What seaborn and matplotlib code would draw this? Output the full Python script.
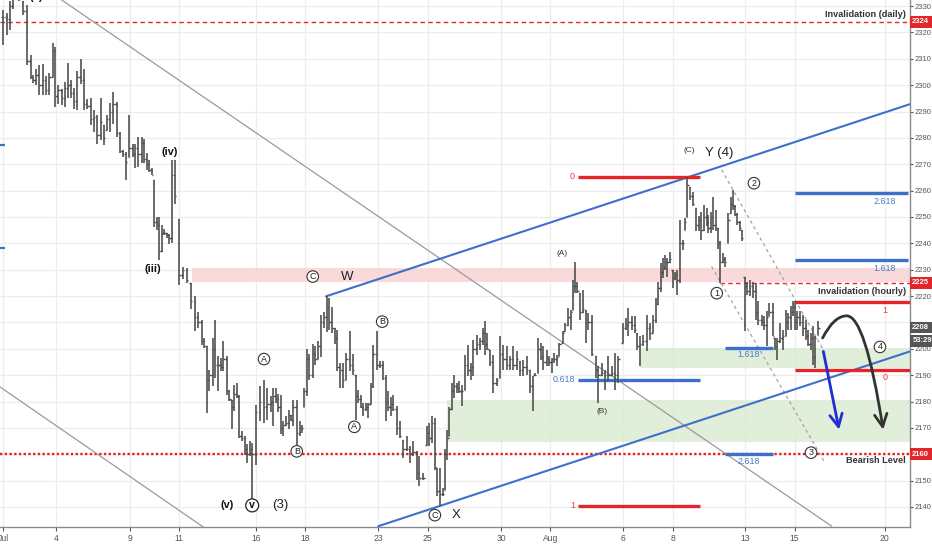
import numpy as np
import pandas as pd
import matplotlib
matplotlib.use("Agg")
import matplotlib.pyplot as plt
import matplotlib.transforms as mtransforms
from matplotlib.path import Path
from matplotlib.patches import FancyArrowPatch, Rectangle
import seaborn as sns

# ---------------- data ----------------
# bar time in trading days since Jul 2 (hourly bars)
bar_time = [
    -0.17, 0.00, 0.13, 0.24, 0.38, 0.51, 0.67, 0.84, 0.97, 1.08,
    1.20, 1.32, 1.46, 1.59, 1.73, 1.86, 1.97, 2.10, 2.23, 2.37,
    2.50, 2.60, 2.73, 2.87, 3.00, 3.14, 3.27, 3.41, 3.54, 3.68,
    3.81, 3.95, 4.06, 4.19, 4.33, 4.46, 4.60, 4.71, 4.84, 4.98,
    5.11, 5.21, 5.34, 5.48, 5.57, 5.68, 5.79, 5.89, 5.98, 6.09,
    6.18, 6.29, 6.40, 6.50, 6.60, 6.71, 6.83, 7.01, 7.15,
    7.32, 7.47, 7.65, 7.78, 7.92, 8.01, 8.12, 8.23, 8.37, 8.46,
    8.59, 8.69, 8.80, 8.93, 9.04, 9.14, 9.23, 9.34, 9.45, 9.56,
    9.68, 9.77, 9.88, 9.97, 10.11, 10.29, 10.45, 10.58, 10.72, 10.83,
    10.94, 11.03, 11.13, 11.23, 11.34, 11.45, 11.55, 11.64, 11.78, 11.91,
    11.99, 12.07, 12.18, 12.27, 12.43, 12.53, 12.65, 12.76, 12.89, 12.99,
    13.10, 13.23, 13.35, 13.43, 13.54, 13.65, 13.80, 13.94, 14.06, 14.17,
    14.27, 14.37, 14.47, 14.59, 14.69, 14.79, 14.89, 15.05, 15.16, 15.27,
    15.40, 15.50, 15.59, 15.69, 15.84, 15.97, 16.11, 16.25, 16.38, 16.51,
    16.65, 16.76, 16.92, 17.06, 17.16, 17.26, 17.39, 17.49, 17.60, 17.71,
    17.80, 17.89, 17.98, 18.07, 18.17, 18.28, 18.38, 18.48, 18.61, 18.75,
    18.85, 18.95, 19.09, 19.22, 19.33, 19.42, 19.52, 19.63, 19.76, 19.90,
    20.03, 20.17, 20.31, 20.44, 20.57, 20.71, 20.85, 20.98, 21.12, 21.25,
    21.36, 21.46, 21.59, 21.69, 21.79, 21.93, 22.04, 22.13, 22.23, 22.34,
    22.44, 22.58, 22.67, 22.81, 22.91, 23.01, 23.08, 23.17, 23.28, 23.39,
    23.53, 23.62, 23.76, 23.93, 24.03, 24.17, 24.30, 24.43, 24.57, 24.71,
    24.84, 25.02, 25.15, 25.25, 25.38, 25.52, 25.61, 25.72, 25.85, 25.99,
    26.13, 26.24, 26.37, 26.46, 26.56, 26.64, 26.74, 26.83, 26.94, 27.05,
    27.14, 27.24, 27.35, 27.46, 27.55, 27.64, 27.75, 27.86, 28.00, 28.11,
    28.21, 28.32, 28.43, 28.50, 28.59, 28.70, 28.81, 28.89, 28.97, 29.08,
    29.17, 29.31, 29.41, 29.49, 29.58, 29.67, 29.78, 29.87, 29.98, 30.08,
    30.19, 30.32, 30.43, 30.52, 30.66, 30.76, 30.87, 30.97, 31.11, 31.20,
    31.30, 31.41, 31.52, 31.65, 31.74, 31.84, 31.95, 32.02, 32.11, 32.22,
    32.35, 32.46, 32.56, 32.65, 32.74, 32.83, 32.97,
]
bar_high = [
    2328.5, 2327.5, 2332, 2334, 2337, 2336, 2332, 2330.4, 2311.4, 2304,
    2306, 2307.6, 2308.2, 2303.4, 2304.7, 2316, 2314.5, 2300, 2298.7, 2301.3,
    2308.5, 2302, 2299.1, 2305.4, 2310.1, 2306.3, 2294.9, 2295.3, 2290.5, 2288.6,
    2295.3, 2284.8, 2288.6, 2293.3, 2297.5, 2293.7, 2282.3, 2275.3, 2274.7, 2288.6,
    2277.8, 2277.8, 2280.4, 2280.4, 2279.7, 2274.1, 2271.5, 2268.4, 2263.9, 2250,
    2250, 2246.8, 2245.6, 2244, 2243.7, 2271.6, 2271.5, 2249.4, 2231,
    2230.6, 2225, 2220, 2214, 2211.1, 2204.1, 2201, 2192, 2204.1, 2211.1,
    2197.2, 2196.5, 2202.9, 2197.2, 2184.5, 2180.7, 2186.4, 2187, 2182.6, 2168.7,
    2166.8, 2163.7, 2164.9, 2164.3, 2178.8, 2185.8, 2188.3, 2185.1, 2182, 2185.1,
    2185, 2183, 2182.6, 2172.5, 2174.4, 2176.9, 2175, 2180.7, 2180.7, 2172.5,
    2171.2, 2185, 2200, 2198, 2202, 2201, 2203, 2213, 2214, 2219.9,
    2219.2, 2216, 2208, 2207, 2194.6, 2194.6, 2198.4, 2206.6, 2198, 2190,
    2184.5, 2182.6, 2179.4, 2179.4, 2179.4, 2187, 2201.5, 2206.6, 2195.2, 2195.2,
    2190, 2183.8, 2181.9, 2182.6, 2178.2, 2172.5, 2165.5, 2166.8, 2163, 2164.9,
    2161.1, 2159.2, 2152.9, 2170.6, 2171.9, 2174.4, 2173.7, 2154.8, 2154.8, 2147.2,
    2161.8, 2169.3, 2178, 2187, 2190.2, 2187, 2187.6, 2186.4, 2197.7, 2201.5,
    2194.6, 2203.4, 2205.3, 2204.1, 2207.8, 2210.4, 2206, 2199.6, 2197.7, 2188.9,
    2204.7, 2201.5, 2200.9, 2197.1, 2200.9, 2199, 2195.2, 2195.8, 2197.1, 2192,
    2189.5, 2190.8, 2204, 2202.2, 2200.9, 2199.6, 2197.1, 2196.5, 2198.4, 2197.7,
    2202.2, 2206.6, 2209.7, 2215.4, 2214.8, 2226.1, 2233.1, 2225.5, 2221.1, 2222.4,
    2214.8, 2213.5, 2212.9, 2197.1, 2193.3, 2194.6, 2192, 2197.1, 2193.3, 2198.4,
    2197.1, 2209.7, 2211.6, 2215.4, 2212.3, 2212.3, 2206, 2204.7, 2205.3, 2212.9,
    2209.7, 2212.9, 2219.2, 2225.5, 2232.5, 2234.4, 2235.6, 2234.4, 2236.9, 2230,
    2229.3, 2230, 2248.9, 2241.3, 2249.5, 2265.3, 2261.5, 2259.6, 2253.3, 2250.2,
    2252, 2254.6, 2253.3, 2250.8, 2252, 2257.7, 2252.7, 2246, 2240.7, 2236.3,
    2235, 2251.4, 2257.7, 2260.3, 2254.6, 2251.4, 2248.3, 2245.1, 2227.4, 2225.5,
    2226.2, 2225.5, 2224.9, 2218, 2212.9, 2212.3, 2214.2, 2217.3, 2217.3, 2204.1,
    2204.1, 2209.7, 2207.2, 2214.8, 2213.5, 2216.1, 2218, 2218, 2214.2, 2214.2,
    2212.9, 2211, 2207.2, 2206, 2208.5, 2204.7, 2210.4,
]
bar_low = [
    2315.2, 2319, 2321, 2329, 2333, 2332, 2326.6, 2307.6, 2302.5, 2301,
    2300, 2296.2, 2296.2, 2296.2, 2296.2, 2303.2, 2291.8, 2293, 2292.4, 2291.8,
    2295, 2295.3, 2291.1, 2290.5, 2300.6, 2290.5, 2291.1, 2284.8, 2282.3, 2277.8,
    2279.1, 2277.2, 2282.9, 2282.3, 2285.4, 2280.4, 2274.1, 2272.8, 2263.9, 2272.8,
    2272.8, 2268.4, 2269, 2270.3, 2270.3, 2267.7, 2267.1, 2265.8, 2246.2, 2244.9,
    2233.5, 2236.7, 2243, 2242.2, 2239.9, 2240.2, 2255.1, 2224.3, 2226.6,
    2225, 2215, 2206.6, 2208, 2201.6, 2200.3, 2175.7, 2184, 2185.8, 2189,
    2183.9, 2191.5, 2191.5, 2182.6, 2180.1, 2169.4, 2176.3, 2181.4, 2166.2, 2164.9,
    2159.9, 2156.7, 2159.2, 2141, 2156.1, 2172.5, 2171.9, 2173.1, 2176, 2170.6,
    2179.5, 2176, 2167.5, 2166.8, 2170.6, 2169.4, 2172.5, 2170.6, 2163.5, 2167,
    2168.1, 2178, 2182, 2188, 2189, 2194, 2196, 2197, 2208, 2206.5,
    2207.2, 2206, 2202, 2191.5, 2185.1, 2185.1, 2188, 2191.4, 2190, 2173,
    2179.4, 2177.5, 2174.4, 2176.3, 2173.7, 2179, 2185, 2192, 2192.7, 2188.3,
    2172.5, 2176.3, 2174.4, 2176.3, 2167.4, 2166.2, 2158.6, 2161.1, 2156.7, 2159.2,
    2150.4, 2147.9, 2150.4, 2163.6, 2163, 2164.3, 2154.2, 2144.1, 2140.3, 2144.1,
    2146.6, 2158, 2167, 2176.9, 2181.3, 2183.2, 2183.2, 2178.2, 2184.5, 2189.5,
    2188.3, 2189.5, 2197.7, 2199.6, 2201.5, 2197.7, 2199.6, 2193.3, 2183.2, 2185.7,
    2188.9, 2192, 2192, 2192, 2192, 2192, 2189.5, 2189.5, 2190.2, 2183.2,
    2176.3, 2189.5, 2190.8, 2195.8, 2192, 2193.3, 2193.3, 2190.8, 2194.6, 2193.3,
    2197.1, 2202.2, 2206.6, 2208.5, 2207.2, 2214.8, 2221.1, 2221.1, 2211, 2213.5,
    2202.2, 2207.2, 2197.1, 2188.9, 2179.4, 2189.5, 2184.5, 2187.6, 2189.5, 2184.5,
    2187, 2202.2, 2207.2, 2204.7, 2207.2, 2206, 2199.6, 2193.3, 2200.9, 2199,
    2203.4, 2206, 2209.7, 2216.7, 2221.7, 2226.8, 2230, 2227.4, 2232.5, 2223,
    2226.2, 2220.5, 2224.9, 2237.5, 2245.1, 2250, 2256.5, 2254, 2244.5, 2244.5,
    2241.3, 2244.5, 2246.4, 2243.8, 2243.8, 2245.1, 2244.5, 2238, 2224.9, 2232.5,
    2231.2, 2240, 2251.4, 2252.7, 2250.2, 2247, 2244.5, 2240.7, 2206.6, 2220.5,
    2219.9, 2219.2, 2211, 2209.1, 2208.5, 2207.2, 2200.9, 2212.3, 2204.7, 2199.6,
    2195.9, 2202.2, 2199.6, 2204.7, 2207.2, 2207.2, 2212.3, 2207.2, 2207.2, 2208.5,
    2204.7, 2203.4, 2200.9, 2199.6, 2194, 2192.7, 2205.4,
]
bar_close = [
    2326, 2325, 2330, 2333, 2335, 2333, 2328, 2309, 2303, 2302,
    2304, 2300, 2302, 2298, 2303, 2313, 2296, 2298, 2295, 2299,
    2300, 2297, 2294, 2303, 2302, 2293, 2292, 2287, 2288, 2281,
    2286, 2280, 2287, 2290, 2293, 2282, 2275, 2274, 2271, 2276,
    2274, 2276, 2274, 2278, 2272, 2270, 2268, 2266, 2248, 2247,
    2237, 2244, 2244, 2243, 2242, 2266, 2258, 2228, 2230,
    2226, 2218, 2212, 2210, 2203, 2201, 2188, 2190, 2200, 2194,
    2194, 2193, 2196, 2184, 2181, 2178, 2183, 2182, 2167, 2166,
    2162, 2160, 2162, 2160, 2176, 2180, 2178, 2179, 2180, 2182,
    2181, 2178, 2170, 2171, 2172, 2175, 2173, 2178, 2168, 2170,
    2170, 2184, 2196, 2190, 2198, 2196, 2201, 2210, 2212, 2216,
    2210, 2208, 2204, 2193, 2192, 2188, 2196, 2194, 2192, 2182,
    2181, 2178, 2177, 2178, 2179, 2186, 2198, 2194, 2194, 2189,
    2180, 2178, 2179, 2177, 2170, 2167, 2162, 2162, 2160, 2161,
    2153, 2151, 2151, 2168, 2166, 2172, 2155, 2146, 2145, 2145,
    2160, 2166, 2177, 2184, 2186, 2185, 2184, 2184, 2194, 2192,
    2193, 2200, 2202, 2203, 2206, 2202, 2200, 2195, 2187, 2188,
    2198, 2196, 2194, 2196, 2194, 2196, 2192, 2193, 2192, 2186,
    2190, 2190, 2200, 2197, 2195, 2196, 2195, 2196, 2196, 2197,
    2202, 2206, 2209, 2212, 2214, 2224, 2224, 2222, 2214, 2215,
    2210, 2210, 2198, 2192, 2190, 2191, 2190, 2190, 2191, 2190,
    2196, 2208, 2209, 2210, 2209, 2207, 2201, 2202, 2203, 2208,
    2206, 2211, 2217, 2223, 2229, 2231, 2233, 2233, 2234, 2227,
    2228, 2226, 2240, 2240, 2248, 2262, 2258, 2255, 2247, 2249,
    2245, 2250, 2248, 2246, 2250, 2247, 2246, 2240, 2233, 2234,
    2233, 2249, 2255, 2254, 2251, 2248, 2246, 2242, 2224, 2222,
    2224, 2222, 2214, 2211, 2210, 2209, 2212, 2214, 2205, 2201,
    2203, 2204, 2205, 2210, 2212, 2214, 2216, 2210, 2212, 2210,
    2208, 2205, 2202, 2204, 2197, 2204, 2208,
]

date_pos = [-0.14, 2.0, 5.0, 7.0, 10.12, 12.13, 15.09, 17.1, 20.08, 22.08,
            25.03, 27.05, 29.98, 32.0, 35.66]
date_labels = ["Jul", "4", "9", "11", "16", "18", "23", "25", "30", "Aug",
               "6", "8", "13", "15", "20"]
price_ticks = list(range(2140, 2331, 10))
hidden_price_labels = [2160, 2210]   # covered by the price-scale boxes

invalid_daily = 2324
invalid_hourly = 2225
bearish_level = 2160
last_price = 2208
countdown = "53:29"

pink_zone = (7.51, 2225.5, 2230.6)
green_zones = [(17.89, 2164.8, 2180.7), (25.72, 2192.7, 2200.3)]

# fib sets: (t0, t1, price, label, colour-key)
fib_lines = [
    (23.2, 28.16, 2265.3, "0", "red"),
    (23.2, 28.16, 2140.5, "1", "red"),
    (23.2, 28.16, 2188.2, "0.618", "blue"),
    (29.17, 31.13, 2200.3, "1.618", "blue"),
    (29.17, 31.13, 2160.0, "2.618", "blue"),
    (32.02, 36.61, 2259.0, "2.618", "blue"),
    (32.02, 36.61, 2233.5, "1.618", "blue"),
    (32.02, 36.69, 2217.7, "1", "red"),
    (32.02, 36.69, 2192.1, "0", "red"),
]

channel_upper = ([12.97, 36.69], [2219.9, 2292.8])
channel_lower = ([15.09, 36.69], [2132.7, 2199.0])
gray_long = ([2.23, 33.51], [2332.3, 2132.7])
gray_short = ([-0.27, 7.98], [2185.5, 2132.4])
dash_one = ([29.04, 33.17], [2267.9, 2199.6])
dash_two = ([28.63, 33.24], [2231.2, 2156.7])

wave_bold = [("(ii)", 1.19, 2333.6), ("(iv)", 6.63, 2274.8),
             ("(iii)", 5.95, 2230.2), ("(v)", 8.97, 2140.6)]
wave_big = [("(3)", 11.13, 2140.6), ("W", 13.81, 2227.4),
            ("X", 18.24, 2136.9), ("Y (4)", 28.94, 2274.4)]
wave_small = [("(A)", 22.56, 2236.0), ("(B)", 24.2, 2176.3), ("(C)", 27.71, 2275.2)]
wave_circled = [("A", 10.45, 2196.1), ("B", 11.78, 2161.1), ("C", 12.43, 2227.4),
                ("A", 14.12, 2170.4), ("B", 15.25, 2210.3), ("C", 17.39, 2136.9),
                ("1", 28.84, 2221.1), ("2", 30.35, 2262.8), ("3", 32.67, 2160.6),
                ("4", 35.47, 2200.7)]
wave_circled_big = [("v", 9.97, 2140.6)]

blue_arrow = ((33.17, 2199.0), (33.81, 2169.3))
# start, control, peak, control, end of the projected path (quadratic pieces)
black_curve = [(33.14, 2204.1), (33.60, 2212.5), (34.12, 2212.5),
               (34.87, 2212.5), (35.60, 2169.3)]

# ---------------- style ----------------
sns.set_theme(style="white")
plt.rcParams["font.family"] = ["Liberation Sans", "DejaVu Sans"]

BAR = "#4a4a4a"
RED = "#e5242a"
BLUE = "#3f6fcc"
GRID = "#ededed"

fig = plt.figure(figsize=(9.32, 5.5), dpi=100)
ax = fig.add_axes([0, 23 / 550, 910 / 932, 527 / 550])
ax.set_xlim(-0.274, 36.69)
ax.set_ylim(2132.4, 2332.3)

# grid and axes
ax.set_xticks(date_pos)
ax.set_xticklabels(date_labels)
ax.set_yticks(price_ticks)
ax.set_yticklabels(["" if v in hidden_price_labels else str(v) for v in price_ticks])
ax.grid(True, color=GRID, lw=0.9, zorder=0)
ax.set_axisbelow(True)

for side in ["left", "top"]:
    ax.spines[side].set_visible(False)
for side in ["right", "bottom"]:
    ax.spines[side].set_color("#8a8a8a")
    ax.spines[side].set_linewidth(1.0)
ax.yaxis.tick_right()
ax.tick_params(axis="y", labelsize=5.5, colors="#555555", length=2.5, width=0.8,
               pad=1, direction="out", right=True, left=False)
ax.tick_params(axis="x", labelsize=6.2, colors="#555555", length=3, width=0.8,
               pad=2, direction="out", bottom=True)
for lab in ax.get_yticklabels() + ax.get_xticklabels():
    lab.set_color("#555555")

# zones
ax.add_patch(Rectangle((pink_zone[0], pink_zone[1]), 40 - pink_zone[0],
                       pink_zone[2] - pink_zone[1], fc="#f9d3d3", ec="none",
                       alpha=0.85, zorder=1))
for t0, lo_, hi_ in green_zones:
    ax.add_patch(Rectangle((t0, lo_), 40 - t0, hi_ - lo_, fc="#dcebd3", ec="none",
                           alpha=0.85, zorder=1))

# horizontal key levels
ax.axhline(invalid_daily, color=RED, lw=1.0, dashes=(3.2, 2.4), zorder=2)
ax.hlines(invalid_hourly, 28.97, 36.69, color=RED, lw=1.0, linestyles=(0, (3.2, 2.4)),
          zorder=2)
ax.axhline(bearish_level, color="#ee1c1c", lw=1.7, dashes=(1.0, 1.0), zorder=2)

# gray trendlines
sns.lineplot(x=gray_long[0], y=gray_long[1], ax=ax, color="#9a9a9a", lw=0.9,
             zorder=2, legend=False)
sns.lineplot(x=gray_short[0], y=gray_short[1], ax=ax, color="#9a9a9a", lw=0.9,
             zorder=2, legend=False)
for xs, ys in (dash_one, dash_two):
    ax.plot(xs, ys, color="#a3a3a3", lw=0.9, dashes=(2.6, 2.6), zorder=2)

# blue channel
for xs, ys in (channel_upper, channel_lower):
    sns.lineplot(x=xs, y=ys, ax=ax, color=BLUE, lw=1.5, zorder=4, legend=False)

# fib lines and labels
for t0, t1, p, lab, ck in fib_lines:
    col = RED if ck == "red" else BLUE
    tcol = "#e8383b" if ck == "red" else "#4a78cc"
    ax.hlines(p, t0, t1, color=col, lw=2.4, zorder=4)
    if t0 < 24:
        ax.text(t0 - 0.12, p, lab, color=tcol, fontsize=6.4, ha="right",
                va="center", zorder=6)
    elif t1 < 32:
        ax.text((t0 + t1) / 2, p - 2.6, lab, color=tcol, fontsize=6.4,
                ha="center", va="center", zorder=6)
    else:
        ax.text(35.67, p - 3.0, lab, color=tcol, fontsize=6.4, ha="center",
                va="center", zorder=6)

# OHLC bars
t = np.array(bar_time)
hi = np.array(bar_high)
lo = np.array(bar_low)
cl = np.array(bar_close)
op = np.clip(np.r_[cl[0], cl[:-1]], lo, hi)
tick = 0.055
ax.vlines(t, lo, hi, color=BAR, lw=1.15, zorder=5)
ax.hlines(op, t - tick, t, color=BAR, lw=1.0, zorder=5)
ax.hlines(cl, t, t + tick, color=BAR, lw=1.0, zorder=5)

# arrows
ax.annotate("", xy=blue_arrow[1], xytext=blue_arrow[0],
            arrowprops=dict(arrowstyle="->,head_length=0.9,head_width=0.45",
                            color="#1f2fd0", lw=2.0, shrinkA=0, shrinkB=0,
                            mutation_scale=10),
            zorder=7)
curve = Path(black_curve, [Path.MOVETO, Path.CURVE3, Path.CURVE3,
                           Path.CURVE3, Path.CURVE3])
ax.add_patch(FancyArrowPatch(path=curve,
                             arrowstyle="->,head_length=0.9,head_width=0.45",
                             color="#333333", lw=2.0, mutation_scale=10, zorder=7))

# wave labels
for s, x, y in wave_bold:
    ax.text(x, y, s, fontsize=7.8, fontweight="bold", color="#111111",
            ha="center", va="center", zorder=8)
for s, x, y in wave_big:
    ax.text(x, y, s, fontsize=9.5, color="#222222", ha="center", va="center",
            zorder=8)
for s, x, y in wave_small:
    ax.text(x, y, s, fontsize=6.0, color="#333333", ha="center", va="center",
            zorder=8)
for s, x, y in wave_circled:
    ax.text(x, y, s, fontsize=6.5, color="#222222", ha="center", va="center",
            zorder=8, bbox=dict(boxstyle="circle,pad=0.14", fc="white",
                                ec="#333333", lw=0.8))
for s, x, y in wave_circled_big:
    ax.text(x, y, s, fontsize=7.6, fontweight="bold", color="#111111",
            ha="center", va="center", zorder=8,
            bbox=dict(boxstyle="circle,pad=0.14", fc="white", ec="#222222", lw=0.9))

# level captions
for s, p in (("Invalidation (daily)", 2326.8), ("Invalidation (hourly)", 2221.8),
             ("Bearish Level", 2157.6)):
    ax.text(36.53, p, s, fontsize=6.6, fontweight="bold", color="#333333",
            ha="right", va="center", zorder=8)

# price scale boxes
trans = mtransforms.blended_transform_factory(ax.transAxes, ax.transData)
for p, txt, fc in ((invalid_daily, str(invalid_daily), "#e1262c"),
                   (invalid_hourly, str(invalid_hourly), "#e1262c"),
                   (bearish_level, str(bearish_level), "#e1262c"),
                   (last_price, str(last_price), "#555555"),
                   (2203.0, countdown, "#555555")):
    ax.text(1.0025, p, txt, transform=trans, fontsize=5.5, fontweight="bold",
            color="white", ha="left", va="center", clip_on=False, zorder=10,
            bbox=dict(boxstyle="square,pad=0.3", fc=fc, ec="none"))

# tiny blue stubs at the left edge
for p in (2277.3, 2238.3):
    ax.hlines(p, -0.3, -0.08, color=BLUE, lw=1.6, zorder=4)

fig.savefig("out.png", dpi=100)
